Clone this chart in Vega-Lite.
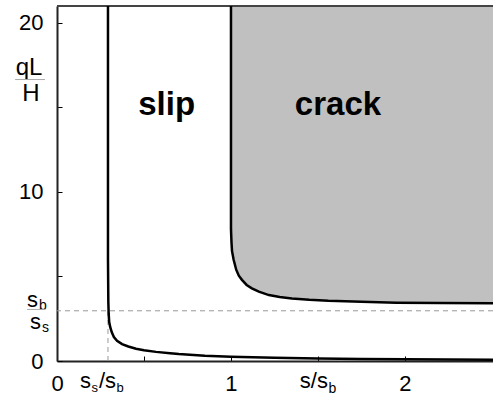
{
  "$schema": "https://vega.github.io/schema/vega-lite/v6.json",
  "width": 436,
  "height": 355,
  "autosize": "none",
  "padding": {"left": 57, "top": 6, "right": 0, "bottom": 44},
  "background": "white",
  "data": {"values": [{"k": 1}]},
  "config": {
    "view": {"stroke": null},
    "font": "Liberation Sans",
    "text": {"font": "Liberation Sans", "color": "black"}
  },
  "datasets": {
    "slip": [
      {"i": 0, "x": 0.293, "y": 21},
      {"i": 1, "x": 0.293, "y": 6},
      {"i": 2, "x": 0.295, "y": 3.5},
      {"i": 3, "x": 0.297, "y": 2.8},
      {"i": 4, "x": 0.300, "y": 2.3},
      {"i": 5, "x": 0.306, "y": 2.0},
      {"i": 6, "x": 0.315, "y": 1.7},
      {"i": 7, "x": 0.327, "y": 1.42},
      {"i": 8, "x": 0.345, "y": 1.2},
      {"i": 9, "x": 0.374, "y": 1.0},
      {"i": 10, "x": 0.41, "y": 0.86},
      {"i": 11, "x": 0.454, "y": 0.73},
      {"i": 12, "x": 0.5, "y": 0.64},
      {"i": 13, "x": 0.569, "y": 0.54},
      {"i": 14, "x": 0.65, "y": 0.46},
      {"i": 15, "x": 0.7, "y": 0.41},
      {"i": 16, "x": 0.85, "y": 0.31},
      {"i": 17, "x": 1.0, "y": 0.25},
      {"i": 18, "x": 1.25, "y": 0.19},
      {"i": 19, "x": 1.5, "y": 0.15},
      {"i": 20, "x": 1.75, "y": 0.12},
      {"i": 21, "x": 2.0, "y": 0.1},
      {"i": 22, "x": 2.25, "y": 0.085},
      {"i": 23, "x": 2.52, "y": 0.07}
    ],
    "crack": [
      {"i": 0, "x": 1.0, "y": 21},
      {"i": 1, "x": 1.0, "y": 7.8},
      {"i": 2, "x": 1.003, "y": 7.0},
      {"i": 3, "x": 1.006, "y": 6.5},
      {"i": 4, "x": 1.015, "y": 6.0},
      {"i": 5, "x": 1.03, "y": 5.4},
      {"i": 6, "x": 1.045, "y": 5.05},
      {"i": 7, "x": 1.063, "y": 4.8},
      {"i": 8, "x": 1.09, "y": 4.5},
      {"i": 9, "x": 1.12, "y": 4.3},
      {"i": 10, "x": 1.16, "y": 4.1},
      {"i": 11, "x": 1.218, "y": 3.9},
      {"i": 12, "x": 1.28, "y": 3.78},
      {"i": 13, "x": 1.35, "y": 3.7},
      {"i": 14, "x": 1.45, "y": 3.62},
      {"i": 15, "x": 1.56, "y": 3.56},
      {"i": 16, "x": 1.75, "y": 3.5},
      {"i": 17, "x": 1.95, "y": 3.45},
      {"i": 18, "x": 2.2, "y": 3.43},
      {"i": 19, "x": 2.52, "y": 3.41}
    ]
  },
  "layer": [
    {
      "data": {"name": "crack"},
      "transform": [{"filter": "datum.y < 21"}],
      "mark": {"type": "area", "color": "#c0c0c0"},
      "encoding": {
        "x": {
          "field": "x", "type": "quantitative",
          "scale": {"domain": [0, 2.506], "nice": false, "zero": false},
          "axis": {
            "title": null, "grid": false,
            "values": [0, 0.5, 1, 1.5, 2],
            "labelExpr": "datum.value % 1 == 0 ? format(datum.value, 'd') : ''",
            "labelFlush": false,
            "labelFont": "Liberation Sans", "labelFontSize": 22, "labelColor": "black",
            "labelPadding": 17,
            "tickSize": -5, "tickColor": "black", "tickWidth": 1,
            "domainColor": "#222", "domainWidth": 2
          }
        },
        "y": {
          "field": "y", "type": "quantitative",
          "scale": {"domain": [0, 21], "nice": false, "zero": false},
          "axis": {
            "title": null, "grid": false,
            "values": [0, 5, 10, 15, 20],
            "labelExpr": "datum.value % 10 == 0 ? format(datum.value, 'd') : ''",
            "labelFlush": false,
            "labelFont": "Liberation Sans", "labelFontSize": 22, "labelColor": "black",
            "labelPadding": 19,
            "tickSize": -5, "tickColor": "black", "tickWidth": 1,
            "domainColor": "#222", "domainWidth": 2
          }
        },
        "y2": {"datum": 21}
      }
    },
    {
      "mark": {"type": "rule", "color": "#999", "strokeWidth": 1, "strokeDash": [5, 4]},
      "encoding": {"y": {"datum": 2.97, "type": "quantitative"}}
    },
    {
      "mark": {"type": "rule", "color": "#999", "strokeWidth": 1, "strokeDash": [5, 4]},
      "encoding": {
        "x": {"datum": 0.293, "type": "quantitative"},
        "y": {"datum": 0, "type": "quantitative"},
        "y2": {"datum": 3}
      }
    },
    {
      "mark": {"type": "rule", "color": "#444", "strokeWidth": 2},
      "encoding": {"y": {"datum": 21, "type": "quantitative"}}
    },
    {
      "data": {"name": "slip"},
      "mark": {"type": "line", "color": "black", "strokeWidth": 2.5},
      "encoding": {
        "x": {"field": "x", "type": "quantitative", "title": null},
        "y": {"field": "y", "type": "quantitative", "title": null},
        "order": {"field": "i"}
      }
    },
    {
      "data": {"name": "crack"},
      "mark": {"type": "line", "color": "black", "strokeWidth": 2.5},
      "encoding": {
        "x": {"field": "x", "type": "quantitative", "title": null},
        "y": {"field": "y", "type": "quantitative", "title": null},
        "order": {"field": "i"}
      }
    },
    {
      "mark": {"type": "text", "fontSize": 33, "fontWeight": "bold", "align": "center", "baseline": "alphabetic"},
      "encoding": {
        "x": {"datum": 0.63, "type": "quantitative"},
        "y": {"datum": 14.56, "type": "quantitative"},
        "text": {"value": "slip"}
      }
    },
    {
      "mark": {"type": "text", "fontSize": 33, "fontWeight": "bold", "align": "center", "baseline": "alphabetic"},
      "encoding": {
        "x": {"datum": 1.615, "type": "quantitative"},
        "y": {"datum": 14.56, "type": "quantitative"},
        "text": {"value": "crack"}
      }
    },
    {
      "mark": {"type": "text", "fontSize": 22, "align": "right", "baseline": "alphabetic", "dx": -17, "dy": 27},
      "encoding": {"x": {"datum": 0.293, "type": "quantitative"}, "y": {"datum": 0, "type": "quantitative"}, "text": {"value": "s"}}
    },
    {
      "mark": {"type": "text", "fontSize": 13, "align": "left", "baseline": "alphabetic", "dx": -16.5, "dy": 31},
      "encoding": {"x": {"datum": 0.293, "type": "quantitative"}, "y": {"datum": 0, "type": "quantitative"}, "text": {"value": "s"}}
    },
    {
      "mark": {"type": "text", "fontSize": 22, "align": "left", "baseline": "alphabetic", "dx": -9, "dy": 27},
      "encoding": {"x": {"datum": 0.293, "type": "quantitative"}, "y": {"datum": 0, "type": "quantitative"}, "text": {"value": "/s"}}
    },
    {
      "mark": {"type": "text", "fontSize": 13, "align": "left", "baseline": "alphabetic", "dx": 8.5, "dy": 31},
      "encoding": {"x": {"datum": 0.293, "type": "quantitative"}, "y": {"datum": 0, "type": "quantitative"}, "text": {"value": "b"}}
    },
    {
      "mark": {"type": "text", "fontSize": 22, "align": "right", "baseline": "alphabetic", "dx": 10, "dy": 27},
      "encoding": {"x": {"datum": 1.5, "type": "quantitative"}, "y": {"datum": 0, "type": "quantitative"}, "text": {"value": "s/s"}}
    },
    {
      "mark": {"type": "text", "fontSize": 14, "align": "left", "baseline": "alphabetic", "dx": 10.5, "dy": 32},
      "encoding": {"x": {"datum": 1.5, "type": "quantitative"}, "y": {"datum": 0, "type": "quantitative"}, "text": {"value": "b"}}
    },
    {
      "mark": {"type": "text", "fontSize": 24, "align": "center", "baseline": "alphabetic", "dx": -28, "dy": -5},
      "encoding": {"x": {"datum": 0, "type": "quantitative"}, "y": {"datum": 16.65, "type": "quantitative"}, "text": {"value": "qL"}}
    },
    {
      "mark": {"type": "rule", "color": "#aaa", "strokeWidth": 1},
      "encoding": {
        "x": {"datum": -0.241, "type": "quantitative"}, "x2": {"datum": -0.069},
        "y": {"datum": 16.65, "type": "quantitative"}
      }
    },
    {
      "mark": {"type": "text", "fontSize": 24, "align": "center", "baseline": "alphabetic", "dx": -26, "dy": 21},
      "encoding": {"x": {"datum": 0, "type": "quantitative"}, "y": {"datum": 16.65, "type": "quantitative"}, "text": {"value": "H"}}
    },
    {
      "mark": {"type": "text", "fontSize": 22, "align": "right", "baseline": "alphabetic", "dx": -19, "dy": -3},
      "encoding": {"x": {"datum": 0, "type": "quantitative"}, "y": {"datum": 3, "type": "quantitative"}, "text": {"value": "s"}}
    },
    {
      "mark": {"type": "text", "fontSize": 14, "align": "left", "baseline": "alphabetic", "dx": -18, "dy": 0},
      "encoding": {"x": {"datum": 0, "type": "quantitative"}, "y": {"datum": 3, "type": "quantitative"}, "text": {"value": "b"}}
    },
    {
      "mark": {"type": "rule", "color": "#aaa", "strokeWidth": 1},
      "encoding": {
        "x": {"datum": -0.172, "type": "quantitative"}, "x2": {"datum": -0.069},
        "y": {"datum": 3.05, "type": "quantitative"}
      }
    },
    {
      "mark": {"type": "text", "fontSize": 22, "align": "right", "baseline": "alphabetic", "dx": -16, "dy": 19},
      "encoding": {"x": {"datum": 0, "type": "quantitative"}, "y": {"datum": 3, "type": "quantitative"}, "text": {"value": "s"}}
    },
    {
      "mark": {"type": "text", "fontSize": 14, "align": "left", "baseline": "alphabetic", "dx": -15, "dy": 22},
      "encoding": {"x": {"datum": 0, "type": "quantitative"}, "y": {"datum": 3, "type": "quantitative"}, "text": {"value": "s"}}
    }
  ]
}
